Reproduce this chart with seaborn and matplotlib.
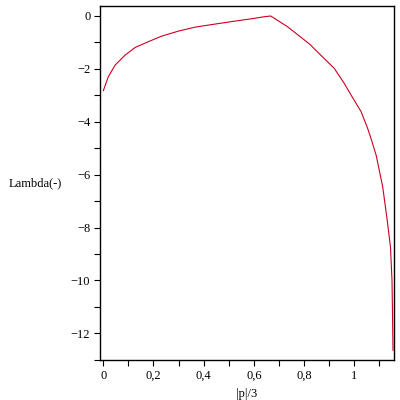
import matplotlib
matplotlib.use("Agg")
import matplotlib.pyplot as plt
from matplotlib.ticker import MultipleLocator, FuncFormatter
import pandas as pd
import seaborn as sns

# curve
p3 = [0.0, 0.02, 0.047, 0.087, 0.127, 0.18, 0.233, 0.30, 0.367, 0.407,
      0.52, 0.587, 0.64, 0.667, 0.733, 0.784, 0.824, 0.850, 0.92, 0.96,
      0.987, 1.027, 1.053, 1.067, 1.087, 1.113, 1.131, 1.144, 1.150, 1.152, 1.154]
lam = [-2.83, -2.30, -1.86, -1.48, -1.19, -0.97, -0.76, -0.57, -0.42, -0.36,
       -0.20, -0.11, -0.03, 0.0, -0.40, -0.78, -1.08, -1.33, -1.98, -2.55,
       -2.99, -3.62, -4.25, -4.65, -5.27, -6.46, -7.73, -8.74, -10.0, -11.2, -12.65]

df = pd.DataFrame({"p3": p3, "lam": lam})

sns.set_style("ticks")
plt.rcParams["font.family"] = ["Liberation Serif", "DejaVu Serif"]
plt.rcParams["text.color"] = "black"
plt.rcParams["axes.labelcolor"] = "black"

fig = plt.figure(figsize=(4, 4), dpi=100)
ax = fig.add_axes([0.25, 0.1, 0.735, 0.885])

sns.lineplot(data=df, x="p3", y="lam", sort=False, estimator=None,
             color="#cc0022", linewidth=0.8, ax=ax)

ax.set_xlim(-0.013, 1.158)
ax.set_ylim(-13.01, 0.378)

ax.xaxis.set_major_locator(MultipleLocator(0.2))
ax.xaxis.set_minor_locator(MultipleLocator(0.1))
ax.yaxis.set_major_locator(MultipleLocator(2))
ax.yaxis.set_minor_locator(MultipleLocator(1))


def comma(v, pos):
    s = "%g" % round(v, 3)
    return s.replace(".", ",").replace("-", "\u2212")


ax.xaxis.set_major_formatter(FuncFormatter(comma))
ax.yaxis.set_major_formatter(FuncFormatter(comma))

ax.tick_params(which="both", direction="out", length=4, width=0.8,
               colors="black", labelcolor="black", labelsize=9, pad=3)
for s in ax.spines.values():
    s.set_color("black")
    s.set_linewidth(1.0)

ax.set_xlabel("|p|/3", fontsize=9, color="black")
ax.xaxis.set_label_coords(0.5, -0.08)
ax.set_ylabel("Lambda(-)", fontsize=9, rotation=0, ha="center", va="center",
              color="black")
ax.yaxis.set_label_coords(-0.221, 0.5)

fig.savefig("out.png", dpi=100)
